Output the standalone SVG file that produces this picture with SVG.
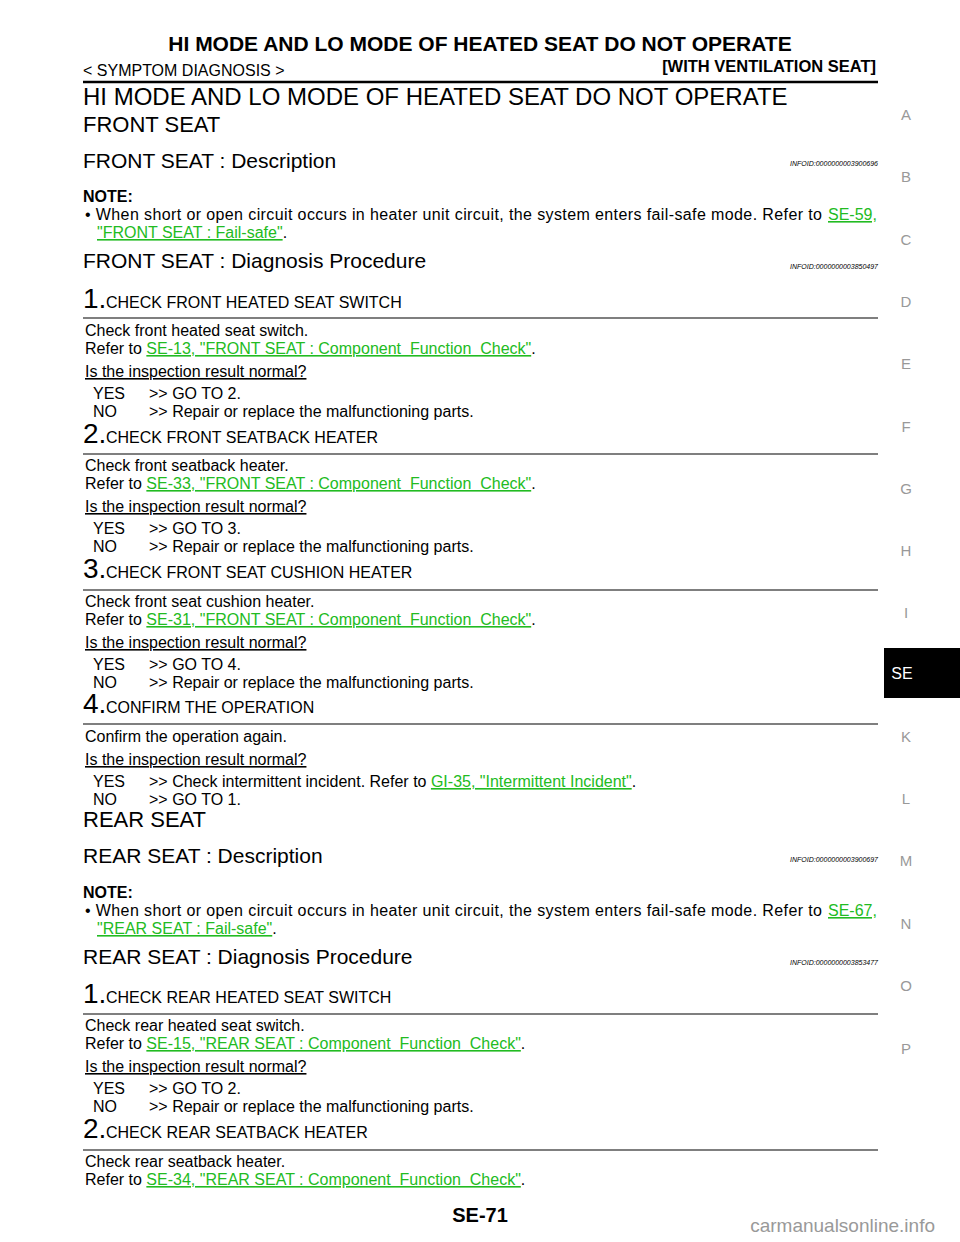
<svg xmlns="http://www.w3.org/2000/svg" width="960" height="1242" viewBox="0 0 960 1242">
<style>
text{font-family:"Liberation Sans",Arial,sans-serif;fill:#000;white-space:pre}
.b{font-size:16px}
.h1{font-size:24px}
.h2{font-size:22px}
.h3{font-size:21px}
.id{font-size:7px;font-style:italic;text-anchor:end}
.n{font-size:28px}
.st{font-size:16px}
.lk{fill:#22bb22;text-decoration:underline}
.u{text-decoration:underline}
.side{font-size:15px;fill:#999;text-anchor:middle}
.r{stroke:#000;stroke-width:1.2}
</style>
<rect width="960" height="1242" fill="#fff"/>
<g id="header">
<text x="480" y="51" text-anchor="middle" style="font-size:21px;font-weight:bold">HI MODE AND LO MODE OF HEATED SEAT DO NOT OPERATE</text>
<text x="83" y="76" class="b">&lt; SYMPTOM DIAGNOSIS &gt;</text>
<text x="876" y="72" text-anchor="end" style="font-size:16.5px;font-weight:bold">[WITH VENTILATION SEAT]</text>
<line x1="83" y1="82" x2="878" y2="82" stroke="#000" stroke-width="2.5"/>
</g>
<g id="sidebar">
<text x="906" y="120" class="side">A</text><text x="906" y="182" class="side">B</text><text x="906" y="245" class="side">C</text><text x="906" y="307" class="side">D</text><text x="906" y="369" class="side">E</text><text x="906" y="432" class="side">F</text><text x="906" y="494" class="side">G</text><text x="906" y="556" class="side">H</text><text x="906" y="618" class="side">I</text>
<rect x="884" y="648" width="76" height="50" fill="#000"/>
<text x="902" y="679" text-anchor="middle" style="font-size:16px;fill:#fff">SE</text>
<text x="906" y="742" class="side">K</text><text x="906" y="804" class="side">L</text><text x="906" y="866" class="side">M</text><text x="906" y="929" class="side">N</text><text x="906" y="991" class="side">O</text><text x="906" y="1054" class="side">P</text>
</g>
<g id="front">
<text x="83" y="105" class="h1">HI MODE AND LO MODE OF HEATED SEAT DO NOT OPERATE</text>
<text x="83" y="132" class="h2">FRONT SEAT</text>
<text x="83" y="168" class="h3">FRONT SEAT : Description</text>
<text x="878" y="166" class="id">INFOID:0000000003900696</text>
<text x="83" y="202" class="b" style="font-weight:bold">NOTE:</text>
<text x="85" y="220" class="b" textLength="737" lengthAdjust="spacing">• When short or open circuit occurs in heater unit circuit, the system enters fail-safe mode. Refer to</text>
<text x="828" y="220" class="b lk">SE-59,</text>
<text x="97" y="238" class="b"><tspan class="lk">"FRONT SEAT : Fail-safe"</tspan>.</text>
<text x="83" y="268" class="h3">FRONT SEAT : Diagnosis Procedure</text>
<text x="878" y="269" class="id">INFOID:0000000003850497</text>
</g>
<g id="f1">
<text x="83" y="308" class="n">1.</text><text x="106" y="308" class="st">CHECK FRONT HEATED SEAT SWITCH</text>
<line x1="83" y1="318" x2="878" y2="318" class="r"/>
<text x="85" y="336" class="b">Check front heated seat switch.</text>
<text x="85" y="354" class="b">Refer to <tspan class="lk">SE-13, "FRONT SEAT : Component  Function  Check"</tspan>.</text>
<text x="85" y="377" class="b u">Is the inspection result normal?</text>
<text x="93" y="399" class="b">YES</text><text x="149" y="399" class="b">&gt;&gt; GO TO 2.</text>
<text x="93" y="417" class="b">NO</text><text x="149" y="417" class="b">&gt;&gt; Repair or replace the malfunctioning parts.</text>
</g>
<g id="f2">
<text x="83" y="443" class="n">2.</text><text x="106" y="443" class="st">CHECK FRONT SEATBACK HEATER</text>
<line x1="83" y1="454" x2="878" y2="454" class="r"/>
<text x="85" y="471" class="b">Check front seatback heater.</text>
<text x="85" y="489" class="b">Refer to <tspan class="lk">SE-33, "FRONT SEAT : Component  Function  Check"</tspan>.</text>
<text x="85" y="512" class="b u">Is the inspection result normal?</text>
<text x="93" y="534" class="b">YES</text><text x="149" y="534" class="b">&gt;&gt; GO TO 3.</text>
<text x="93" y="552" class="b">NO</text><text x="149" y="552" class="b">&gt;&gt; Repair or replace the malfunctioning parts.</text>
</g>
<g id="f3">
<text x="83" y="578" class="n">3.</text><text x="106" y="578" class="st">CHECK FRONT SEAT CUSHION HEATER</text>
<line x1="83" y1="590" x2="878" y2="590" class="r"/>
<text x="85" y="607" class="b">Check front seat cushion heater.</text>
<text x="85" y="625" class="b">Refer to <tspan class="lk">SE-31, "FRONT SEAT : Component  Function  Check"</tspan>.</text>
<text x="85" y="648" class="b u">Is the inspection result normal?</text>
<text x="93" y="670" class="b">YES</text><text x="149" y="670" class="b">&gt;&gt; GO TO 4.</text>
<text x="93" y="688" class="b">NO</text><text x="149" y="688" class="b">&gt;&gt; Repair or replace the malfunctioning parts.</text>
</g>
<g id="f4">
<text x="83" y="713" class="n">4.</text><text x="106" y="713" class="st">CONFIRM THE OPERATION</text>
<line x1="83" y1="724" x2="878" y2="724" class="r"/>
<text x="85" y="742" class="b">Confirm the operation again.</text>
<text x="85" y="765" class="b u">Is the inspection result normal?</text>
<text x="93" y="787" class="b">YES</text><text x="149" y="787" class="b">&gt;&gt; Check intermittent incident. Refer to <tspan class="lk">GI-35, "Intermittent Incident"</tspan>.</text>
<text x="93" y="805" class="b">NO</text><text x="149" y="805" class="b">&gt;&gt; GO TO 1.</text>
</g>
<g id="rear">
<text x="83" y="827" class="h2">REAR SEAT</text>
<text x="83" y="863" class="h3">REAR SEAT : Description</text>
<text x="878" y="862" class="id">INFOID:0000000003900697</text>
<text x="83" y="898" class="b" style="font-weight:bold">NOTE:</text>
<text x="85" y="916" class="b" textLength="737" lengthAdjust="spacing">• When short or open circuit occurs in heater unit circuit, the system enters fail-safe mode. Refer to</text>
<text x="828" y="916" class="b lk">SE-67,</text>
<text x="97" y="934" class="b"><tspan class="lk">"REAR SEAT : Fail-safe"</tspan>.</text>
<text x="83" y="964" class="h3">REAR SEAT : Diagnosis Procedure</text>
<text x="878" y="965" class="id">INFOID:0000000003853477</text>
</g>
<g id="r1">
<text x="83" y="1003" class="n">1.</text><text x="106" y="1003" class="st">CHECK REAR HEATED SEAT SWITCH</text>
<line x1="83" y1="1014" x2="878" y2="1014" class="r"/>
<text x="85" y="1031" class="b">Check rear heated seat switch.</text>
<text x="85" y="1049" class="b">Refer to <tspan class="lk">SE-15, "REAR SEAT : Component  Function  Check"</tspan>.</text>
<text x="85" y="1072" class="b u">Is the inspection result normal?</text>
<text x="93" y="1094" class="b">YES</text><text x="149" y="1094" class="b">&gt;&gt; GO TO 2.</text>
<text x="93" y="1112" class="b">NO</text><text x="149" y="1112" class="b">&gt;&gt; Repair or replace the malfunctioning parts.</text>
</g>
<g id="r2">
<text x="83" y="1138" class="n">2.</text><text x="106" y="1138" class="st">CHECK REAR SEATBACK HEATER</text>
<line x1="83" y1="1150" x2="878" y2="1150" class="r"/>
<text x="85" y="1167" class="b">Check rear seatback heater.</text>
<text x="85" y="1185" class="b">Refer to <tspan class="lk">SE-34, "REAR SEAT : Component  Function  Check"</tspan>.</text>
</g>
<g id="footer">
<text x="480" y="1222" text-anchor="middle" style="font-size:20px;font-weight:bold">SE-71</text>
<text x="935" y="1232" text-anchor="end" style="font-size:19px;fill:#999">carmanualsonline.info</text>
</g>
</svg>
